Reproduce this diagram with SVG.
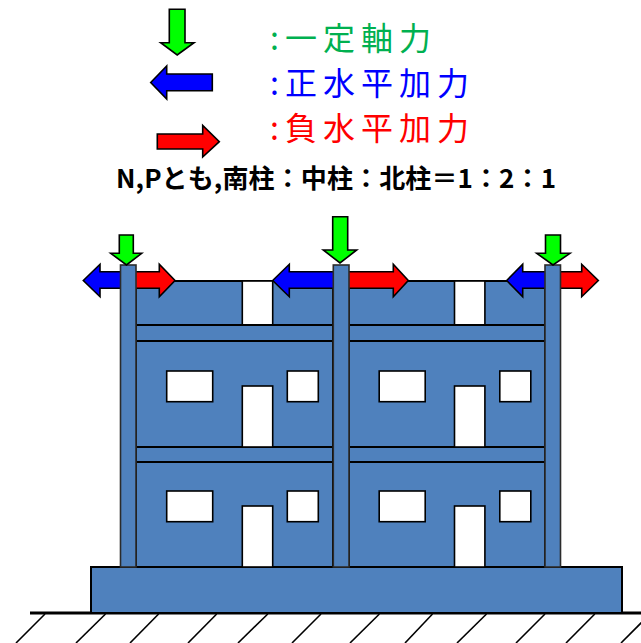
<svg xmlns="http://www.w3.org/2000/svg" width="641" height="643" viewBox="0 0 641 643">
  <style>
    .wall { fill: #4F81BD; stroke: #000; stroke-width: 2; }
    .col { fill: #4F81BD; stroke: #2b2b2b; stroke-width: 1.6; }
    .hole { fill: #fff; stroke: #000; stroke-width: 1.6; }
    .axial { fill: #00FF00; stroke: #000; stroke-width: 1.6; stroke-linejoin: miter; }
    .pos { fill: #0000FF; stroke: #000; stroke-width: 1.6; }
    .neg { fill: #FF0000; stroke: #000; stroke-width: 1.6; }
    .hatch { stroke: #000; stroke-width: 1.6; fill: none; }
    .leg { font-family: "Noto Sans CJK JP", "Noto Sans", sans-serif; font-size: 32px; letter-spacing: 6px; }
    .title { font-family: "Noto Sans CJK JP", "Noto Sans", sans-serif; font-size: 26px; font-weight: bold; fill: #000; }
  </style>
  <rect width="641" height="643" fill="#fff"/>

  <!-- legend -->
  <g id="legend">
    <polygon class="axial" points="169.3,9.3 185,9.3 185,42.7 194,42.7 177.2,55 160.7,42.7 169.3,42.7"/>
    <polygon class="pos" points="150.7,82.5 166.7,66 166.7,74 212.3,74 212.3,90.7 166.7,90.7 166.7,99"/>
    <polygon class="neg" points="157.3,134 202.7,134 202.7,125.5 219.3,141.7 202.7,157 202.7,149 157.3,149"/>
    <text class="leg" x="270" y="50" fill="#00B050">:<tspan x="285">一定軸力</tspan></text>
    <text class="leg" x="270" y="95" fill="#0000FF">:<tspan x="285">正水平加力</tspan></text>
    <text class="leg" x="270" y="140" fill="#FF0000">:<tspan x="285">負水平加力</tspan></text>
  </g>

  <g id="title">
    <text class="title" x="116" y="188" textLength="440" lengthAdjust="spacing">N,Pとも,南柱：中柱：北柱＝1：2：1</text>
  </g>

  <!-- ground -->
  <g id="ground">
    <line x1="30" y1="613" x2="641" y2="613" stroke="#000" stroke-width="3"/>
    <g class="hatch">
      <line x1="45" y1="614" x2="16" y2="643"/>
      <line x1="105.5" y1="614" x2="76" y2="643"/>
      <line x1="158.6" y1="614" x2="130" y2="643"/>
      <line x1="216.7" y1="614" x2="188" y2="643"/>
      <line x1="267.8" y1="614" x2="238" y2="643"/>
      <line x1="321" y1="614" x2="292" y2="643"/>
      <line x1="379.4" y1="614" x2="350" y2="643"/>
      <line x1="432.5" y1="614" x2="405" y2="643"/>
      <line x1="486.5" y1="614" x2="457" y2="643"/>
      <line x1="545" y1="614" x2="516" y2="643"/>
      <line x1="594.8" y1="614" x2="566" y2="643"/>
      <line x1="650" y1="614" x2="621" y2="643"/>
    </g>
  </g>

  <!-- foundation slab -->
  <g id="foundation">
    <rect class="wall" x="91" y="567" width="531" height="46"/>
  </g>

  <!-- left bay -->
  <g id="bay-left">
    <rect class="wall" x="136" y="281" width="197" height="44"/>
    <rect class="hole" x="242.3" y="281" width="30.4" height="44"/>
    <rect class="wall" x="136" y="325" width="197" height="16"/>
    <rect class="wall" x="136" y="341" width="197" height="106"/>
    <rect class="wall" x="136" y="447" width="197" height="15"/>
    <rect class="wall" x="136" y="462" width="197" height="105"/>
    <rect class="hole" x="166.7" y="371" width="46" height="30.7"/>
    <rect class="hole" x="287.3" y="371" width="31" height="30.7"/>
    <rect class="hole" x="242.3" y="386" width="30.4" height="61"/>
    <rect class="hole" x="166.7" y="491" width="46" height="30.7"/>
    <rect class="hole" x="287.3" y="491" width="31" height="30.7"/>
    <rect class="hole" x="242.3" y="506" width="30.4" height="61"/>
  </g>

  <!-- right bay -->
  <g id="bay-right">
    <rect class="wall" x="349" y="281" width="196" height="44"/>
    <rect class="hole" x="454.5" y="281" width="30.4" height="44"/>
    <rect class="wall" x="349" y="325" width="196" height="16"/>
    <rect class="wall" x="349" y="341" width="196" height="106"/>
    <rect class="wall" x="349" y="447" width="196" height="15"/>
    <rect class="wall" x="349" y="462" width="196" height="105"/>
    <rect class="hole" x="379.2" y="371" width="46" height="30.7"/>
    <rect class="hole" x="499.8" y="371" width="31" height="30.7"/>
    <rect class="hole" x="454.5" y="386" width="30.4" height="61"/>
    <rect class="hole" x="379.2" y="491" width="46" height="30.7"/>
    <rect class="hole" x="499.8" y="491" width="31" height="30.7"/>
    <rect class="hole" x="454.5" y="506" width="30.4" height="61"/>
  </g>

  <!-- horizontal loads at column heads -->
  <g id="loads-horizontal">
    <polygon class="pos" points="83.3,280.5 100,264.3 100,271.7 126,271.7 126,288.3 100,288.3 100,296.7"/>
    <polygon class="neg" points="130,271.7 159.3,271.7 159.3,264.3 175,280.5 159.3,296.7 159.3,288.3 130,288.3"/>
    <polygon class="pos" points="272.7,280.5 289.3,264.3 289.3,271.7 338,271.7 338,288.3 289.3,288.3 289.3,296.7"/>
    <polygon class="neg" points="344,271.7 393.3,271.7 393.3,264.3 408.3,280.5 393.3,296.7 393.3,288.3 344,288.3"/>
    <polygon class="pos" points="506.7,280.5 522.7,264.3 522.7,271.7 550,271.7 550,288.3 522.7,288.3 522.7,296.7"/>
    <polygon class="neg" points="556,271.7 581.7,271.7 581.7,264.3 598.3,280.5 581.7,296.7 581.7,288.3 556,288.3"/>
  </g>

  <!-- columns -->
  <g id="col-south">
    <rect class="col" x="120.5" y="265" width="15.5" height="302"/>
  </g>
  <g id="col-middle">
    <rect class="col" x="333.3" y="265" width="15.7" height="302"/>
  </g>
  <g id="col-north">
    <rect class="col" x="545" y="265" width="15.5" height="302"/>
  </g>

  <!-- constant axial loads -->
  <g id="loads-axial">
    <polygon class="axial" points="119.3,235 133.3,235 133.3,253.3 141.7,253.3 126.5,265 110.7,253.3 119.3,253.3"/>
    <polygon class="axial" points="332.7,216.7 347.7,216.7 347.7,250 356.7,250 340,263 323.3,250 332.7,250"/>
    <polygon class="axial" points="545.5,235 560.5,235 560.5,253.3 570,253.3 553,265 536.7,253.3 545.5,253.3"/>
  </g>
</svg>
